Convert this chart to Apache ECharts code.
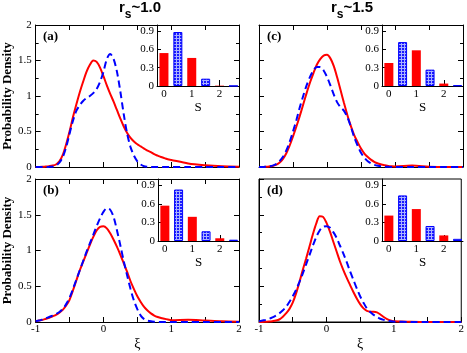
<!DOCTYPE html>
<html>
<head>
<meta charset="utf-8">
<title>Probability density</title>
<script src="https://cdn.jsdelivr.net/npm/echarts@6.0.0/dist/echarts.min.js"></script>
<style>
html, body { margin: 0; padding: 0; background: #fff; }
#pic { width: 467px; height: 353px; }
</style>
</head>
<body>
<div id="pic"></div>
<script>
// xi grid shared by every curve
var xi = [-1, -0.95, -0.9, -0.85, -0.8, -0.75, -0.7, -0.65, -0.6, -0.55,
          -0.5, -0.45, -0.4, -0.35, -0.3, -0.25, -0.2, -0.15, -0.1, -0.05,
          0, 0.05, 0.1, 0.15, 0.2, 0.25, 0.3, 0.35, 0.4, 0.45,
          0.5, 0.55, 0.6, 0.65, 0.7, 0.75, 0.8, 0.85, 0.9, 0.95,
          1.0, 1.25, 1.5, 1.75, 2.0];

// (a) rs~1.0 top
var redA = [0, 0, 0.002, 0.006, 0.012, 0.02, 0.035, 0.08, 0.17, 0.32,
            0.5, 0.7, 0.88, 1.05, 1.2, 1.34, 1.44, 1.5, 1.48, 1.4,
            1.28, 1.15, 1.03, 0.92, 0.8, 0.68, 0.57, 0.48, 0.41, 0.36,
            0.32, 0.29, 0.26, 0.23, 0.21, 0.18, 0.16, 0.14, 0.125, 0.11,
            0.1, 0.05, 0.025, 0.01, 0.004];
var blueA = [0, 0, 0, 0, 0.002, 0.005, 0.02, 0.06, 0.14, 0.28,
             0.47, 0.65, 0.79, 0.87, 0.93, 0.97, 1.0, 1.04, 1.1, 1.2,
             1.34, 1.52, 1.59, 1.52, 1.34, 1.06, 0.74, 0.47, 0.28, 0.16,
             0.08, 0.035, 0.01, 0.003, 0, 0, 0, 0, 0, 0,
             0, 0, 0, 0, 0];
// (b) rs~1.0 bottom
var redB = [0.01, 0.02, 0.03, 0.045, 0.06, 0.08, 0.1, 0.13, 0.17, 0.23,
            0.31, 0.44, 0.58, 0.72, 0.84, 0.96, 1.08, 1.19, 1.28, 1.33,
            1.34, 1.31, 1.24, 1.15, 1.05, 0.94, 0.82, 0.7, 0.57, 0.46,
            0.36, 0.28, 0.21, 0.16, 0.12, 0.09, 0.07, 0.055, 0.045, 0.035,
            0.025, 0.03, 0.02, 0.01, 0.005];
var blueB = [0.01, 0.02, 0.035, 0.05, 0.07, 0.09, 0.11, 0.14, 0.18, 0.25,
             0.34, 0.46, 0.59, 0.72, 0.85, 0.98, 1.1, 1.22, 1.34, 1.45,
             1.54, 1.59, 1.57, 1.47, 1.28, 1.07, 0.85, 0.65, 0.46, 0.3,
             0.18, 0.09, 0.04, 0.02, 0.01, 0.005, 0.002, 0, 0, 0,
             0, 0, 0, 0, 0];
// (c) rs~1.5 top
var redC = [0, 0, 0.003, 0.008, 0.015, 0.03, 0.06, 0.11, 0.19, 0.3,
            0.43, 0.57, 0.72, 0.88, 1.04, 1.19, 1.32, 1.44, 1.52, 1.57,
            1.58, 1.53, 1.42, 1.26, 1.08, 0.9, 0.73, 0.58, 0.45, 0.35,
            0.26, 0.19, 0.14, 0.1, 0.07, 0.05, 0.035, 0.025, 0.015, 0.01,
            0.008, 0.02, 0.005, 0, 0];
var blueC = [0, 0, 0.004, 0.01, 0.02, 0.04, 0.08, 0.14, 0.23, 0.35,
             0.5, 0.66, 0.84, 1.0, 1.15, 1.27, 1.36, 1.41, 1.41, 1.36,
             1.27, 1.15, 1.02, 0.91, 0.84, 0.79, 0.7, 0.57, 0.42, 0.3,
             0.2, 0.13, 0.08, 0.05, 0.03, 0.018, 0.01, 0.005, 0.003, 0,
             0, 0, 0, 0, 0];
// (d) rs~1.5 bottom
var redD = [0, 0, 0.003, 0.006, 0.012, 0.02, 0.035, 0.07, 0.12, 0.18,
            0.27, 0.4, 0.56, 0.73, 0.89, 1.06, 1.23, 1.38, 1.48, 1.47,
            1.39, 1.27, 1.13, 0.99, 0.85, 0.73, 0.62, 0.52, 0.42, 0.33,
            0.25, 0.19, 0.155, 0.145, 0.145, 0.135, 0.105, 0.07, 0.04, 0.02,
            0.01, 0.003, 0, 0, 0];
var blueD = [0.01, 0.02, 0.03, 0.045, 0.065, 0.09, 0.12, 0.16, 0.21, 0.28,
             0.36, 0.45, 0.56, 0.68, 0.81, 0.94, 1.07, 1.19, 1.28, 1.33,
             1.34, 1.32, 1.26, 1.18, 1.07, 0.96, 0.84, 0.71, 0.59, 0.47,
             0.36, 0.27, 0.19, 0.14, 0.1, 0.07, 0.045, 0.03, 0.02, 0.012,
             0.006, 0, 0, 0, 0];

// inset histograms over S
var sRed = [0, 1, 2];
var sBlue = [0.5, 1.5, 2.5];
var barRedA = [0.54, 0.46, 0.006], barBlueA = [0.885, 0.12, 0.002];
var barRedB = [0.57, 0.39, 0.044], barBlueB = [0.83, 0.157, 0.021];
var barRedC = [0.377, 0.585, 0.04], barBlueC = [0.72, 0.268, 0.011];
var barRedD = [0.41, 0.515, 0.09], barBlueD = [0.735, 0.242, 0.035];
var insTicks = [0, 0.3, 0.6, 0.9];
var xiLabels = [-1, 0, 1, 2];

var serif = '"Liberation Serif", "DejaVu Serif", serif';
var sans = '"Liberation Sans", Arial, sans-serif';
var chart = echarts.init(document.getElementById('pic'));

function pairs(xs, ys) {
  var out = [];
  for (var i = 0; i < ys.length; i++) out.push([xs[i], ys[i]]);
  return out;
}

// blue checked fill for the inset bars
function checks() {
  var c = document.createElement('canvas');
  c.width = 3; c.height = 3;
  var g = c.getContext('2d');
  g.fillStyle = '#1a1aff';
  g.fillRect(0, 0, 3, 3);
  g.fillStyle = '#aab2ff';
  g.fillRect(2, 0, 1, 3);
  g.fillRect(0, 2, 3, 1);
  return c;
}
var blueFill = {image: checks(), repeat: 'repeat'};

var black = {color: '#000', width: 1};
var grids = [], xAxes = [], yAxes = [], series = [], graphics = [];

function addPanel(p) {
  var gMain = grids.length;
  grids.push({left: p.box[0], top: p.box[1], width: p.box[2], height: p.box[3],
    show: !p.mirror, borderColor: '#000', borderWidth: 1});
  var gIns = grids.length;
  grids.push({left: p.ins[0], top: p.ins[1], width: p.ins[2], height: p.ins[3]});

  var xMain = xAxes.length;
  xAxes.push({
    type: 'value', gridIndex: gMain, position: 'bottom', min: -1, max: 2, interval: 0.5,
    axisLine: {onZero: false, lineStyle: black},
    axisTick: {inside: true, length: 5, lineStyle: black},
    axisLabel: {show: p.xLabels, margin: 2, color: '#000', fontFamily: serif, fontSize: 11,
      customValues: xiLabels},
    splitLine: {show: false},
    name: p.xLabels ? 'ξ' : '', nameLocation: 'middle', nameGap: 15,
    nameTextStyle: {color: '#000', fontFamily: serif, fontSize: 14}
  });
  if (p.mirror) {
    xAxes.push({
      type: 'value', gridIndex: gMain, position: 'top', min: -1, max: 2, interval: 0.5,
      axisLine: {onZero: false, lineStyle: black},
      axisTick: {inside: true, length: 5, lineStyle: black},
      axisLabel: {show: false}, splitLine: {show: false}
    });
  }
  var yMain = yAxes.length;
  yAxes.push({
    type: 'value', gridIndex: gMain, position: 'left', min: 0, max: 2, interval: 0.5,
    axisLine: {show: true, onZero: false, lineStyle: black},
    axisTick: {show: true, inside: true, length: 5, lineStyle: black},
    minorTick: {show: p.minor, splitNumber: 2, length: 3, lineStyle: black},
    axisLabel: {show: p.yLabels, margin: 4, color: '#000', fontFamily: serif, fontSize: 11},
    splitLine: {show: false},
    name: p.yLabels ? 'Probability Density' : '', nameLocation: 'middle', nameGap: 21,
    nameTextStyle: {color: '#000', fontFamily: serif, fontSize: 13, fontWeight: 'bold'}
  });
  if (p.mirror) {
    yAxes.push({
      type: 'value', gridIndex: gMain, position: 'right', min: 0, max: 2, interval: 0.5,
      axisLine: {show: true, onZero: false, lineStyle: black},
      axisTick: {show: true, inside: true, length: 5, lineStyle: black},
      minorTick: {show: p.minor, splitNumber: 2, length: 3, lineStyle: black},
      axisLabel: {show: false}, splitLine: {show: false}
    });
  }

  var xIns = xAxes.length;
  xAxes.push({
    type: 'value', gridIndex: gIns, position: 'bottom', min: -0.25, max: 2.7,
    axisLine: {onZero: false, lineStyle: black},
    axisTick: {inside: true, length: 6, lineStyle: black, customValues: [0, 1, 2]},
    axisLabel: {margin: 3, color: '#000', fontFamily: serif, fontSize: 11, customValues: [0, 1, 2]},
    splitLine: {show: false},
    name: 'S', nameLocation: 'middle', nameGap: 15,
    nameTextStyle: {color: '#000', fontFamily: serif, fontSize: 13}
  });
  var yIns = yAxes.length;
  yAxes.push({
    type: 'value', gridIndex: gIns, position: 'left', min: 0, max: 1,
    axisLine: {show: true, onZero: false, lineStyle: black},
    axisTick: {show: true, inside: true, length: 4, lineStyle: black, customValues: insTicks},
    axisLabel: {margin: 3, color: '#000', fontFamily: serif, fontSize: 11, customValues: insTicks},
    splitLine: {show: false}
  });

  series.push({
    type: 'line', xAxisIndex: xMain, yAxisIndex: yMain, data: pairs(xi, p.red),
    smooth: 0.3, symbol: 'none', lineStyle: {color: '#ff0000', width: 2}, z: 2
  });
  series.push({
    type: 'line', xAxisIndex: xMain, yAxisIndex: yMain, data: pairs(xi, p.blue),
    smooth: 0.3, symbol: 'none', lineStyle: {color: '#0000ff', width: 2, type: [7, 4]}, z: 3
  });
  series.push({
    type: 'bar', xAxisIndex: xIns, yAxisIndex: yIns, data: pairs(sRed, p.barRed),
    barWidth: 9, barGap: '-100%', itemStyle: {color: '#ff0000'}
  });
  series.push({
    type: 'bar', xAxisIndex: xIns, yAxisIndex: yIns, data: pairs(sBlue, p.barBlue),
    barWidth: 9, barGap: '-100%', itemStyle: {color: blueFill, borderColor: '#0000ff', borderWidth: 1}
  });

  graphics.push({
    type: 'text', x: p.box[0] + 8, y: p.box[1] + 5,
    style: {text: p.tag, fontFamily: serif, fontSize: 13, fontWeight: 'bold', fill: '#000'}
  });
}

addPanel({box: [35, 25, 204, 142], ins: [157, 25, 82, 61], red: redA, blue: blueA,
  barRed: barRedA, barBlue: barBlueA, tag: '(a)', xLabels: false, yLabels: true, mirror: true, minor: true});
addPanel({box: [35, 179, 204, 143], ins: [158, 179, 81, 62], red: redB, blue: blueB,
  barRed: barRedB, barBlue: barBlueB, tag: '(b)', xLabels: true, yLabels: true, mirror: true, minor: false});
addPanel({box: [259, 25, 204, 142], ins: [382, 25, 81, 61], red: redC, blue: blueC,
  barRed: barRedC, barBlue: barBlueC, tag: '(c)', xLabels: false, yLabels: false, mirror: true, minor: true});
addPanel({box: [259, 179, 204, 143], ins: [382, 179, 81, 62], red: redD, blue: blueD,
  barRed: barRedD, barBlue: barBlueD, tag: '(d)', xLabels: true, yLabels: false, mirror: false, minor: true});

// column titles r_s ~ 1.0 / 1.5
var titleRich = {
  r: {fontFamily: sans, fontSize: 15, fontWeight: 'bold', lineHeight: 16, verticalAlign: 'top', fill: '#000'},
  s: {fontFamily: sans, fontSize: 12, fontWeight: 'bold', lineHeight: 12, padding: [9, 0, 0, 0], verticalAlign: 'top', fill: '#000'}
};
graphics.push({type: 'text', x: 140, y: 0,
  style: {text: '{r|r}{s|s}{r|~1.0}', rich: titleRich, align: 'center', verticalAlign: 'top'}});
graphics.push({type: 'text', x: 352, y: 0,
  style: {text: '{r|r}{s|s}{r|~1.5}', rich: titleRich, align: 'center', verticalAlign: 'top'}});

chart.setOption({
  backgroundColor: '#fff',
  animation: false,
  grid: grids,
  xAxis: xAxes,
  yAxis: yAxes,
  series: series,
  graphic: graphics
});
</script>
</body>
</html>
